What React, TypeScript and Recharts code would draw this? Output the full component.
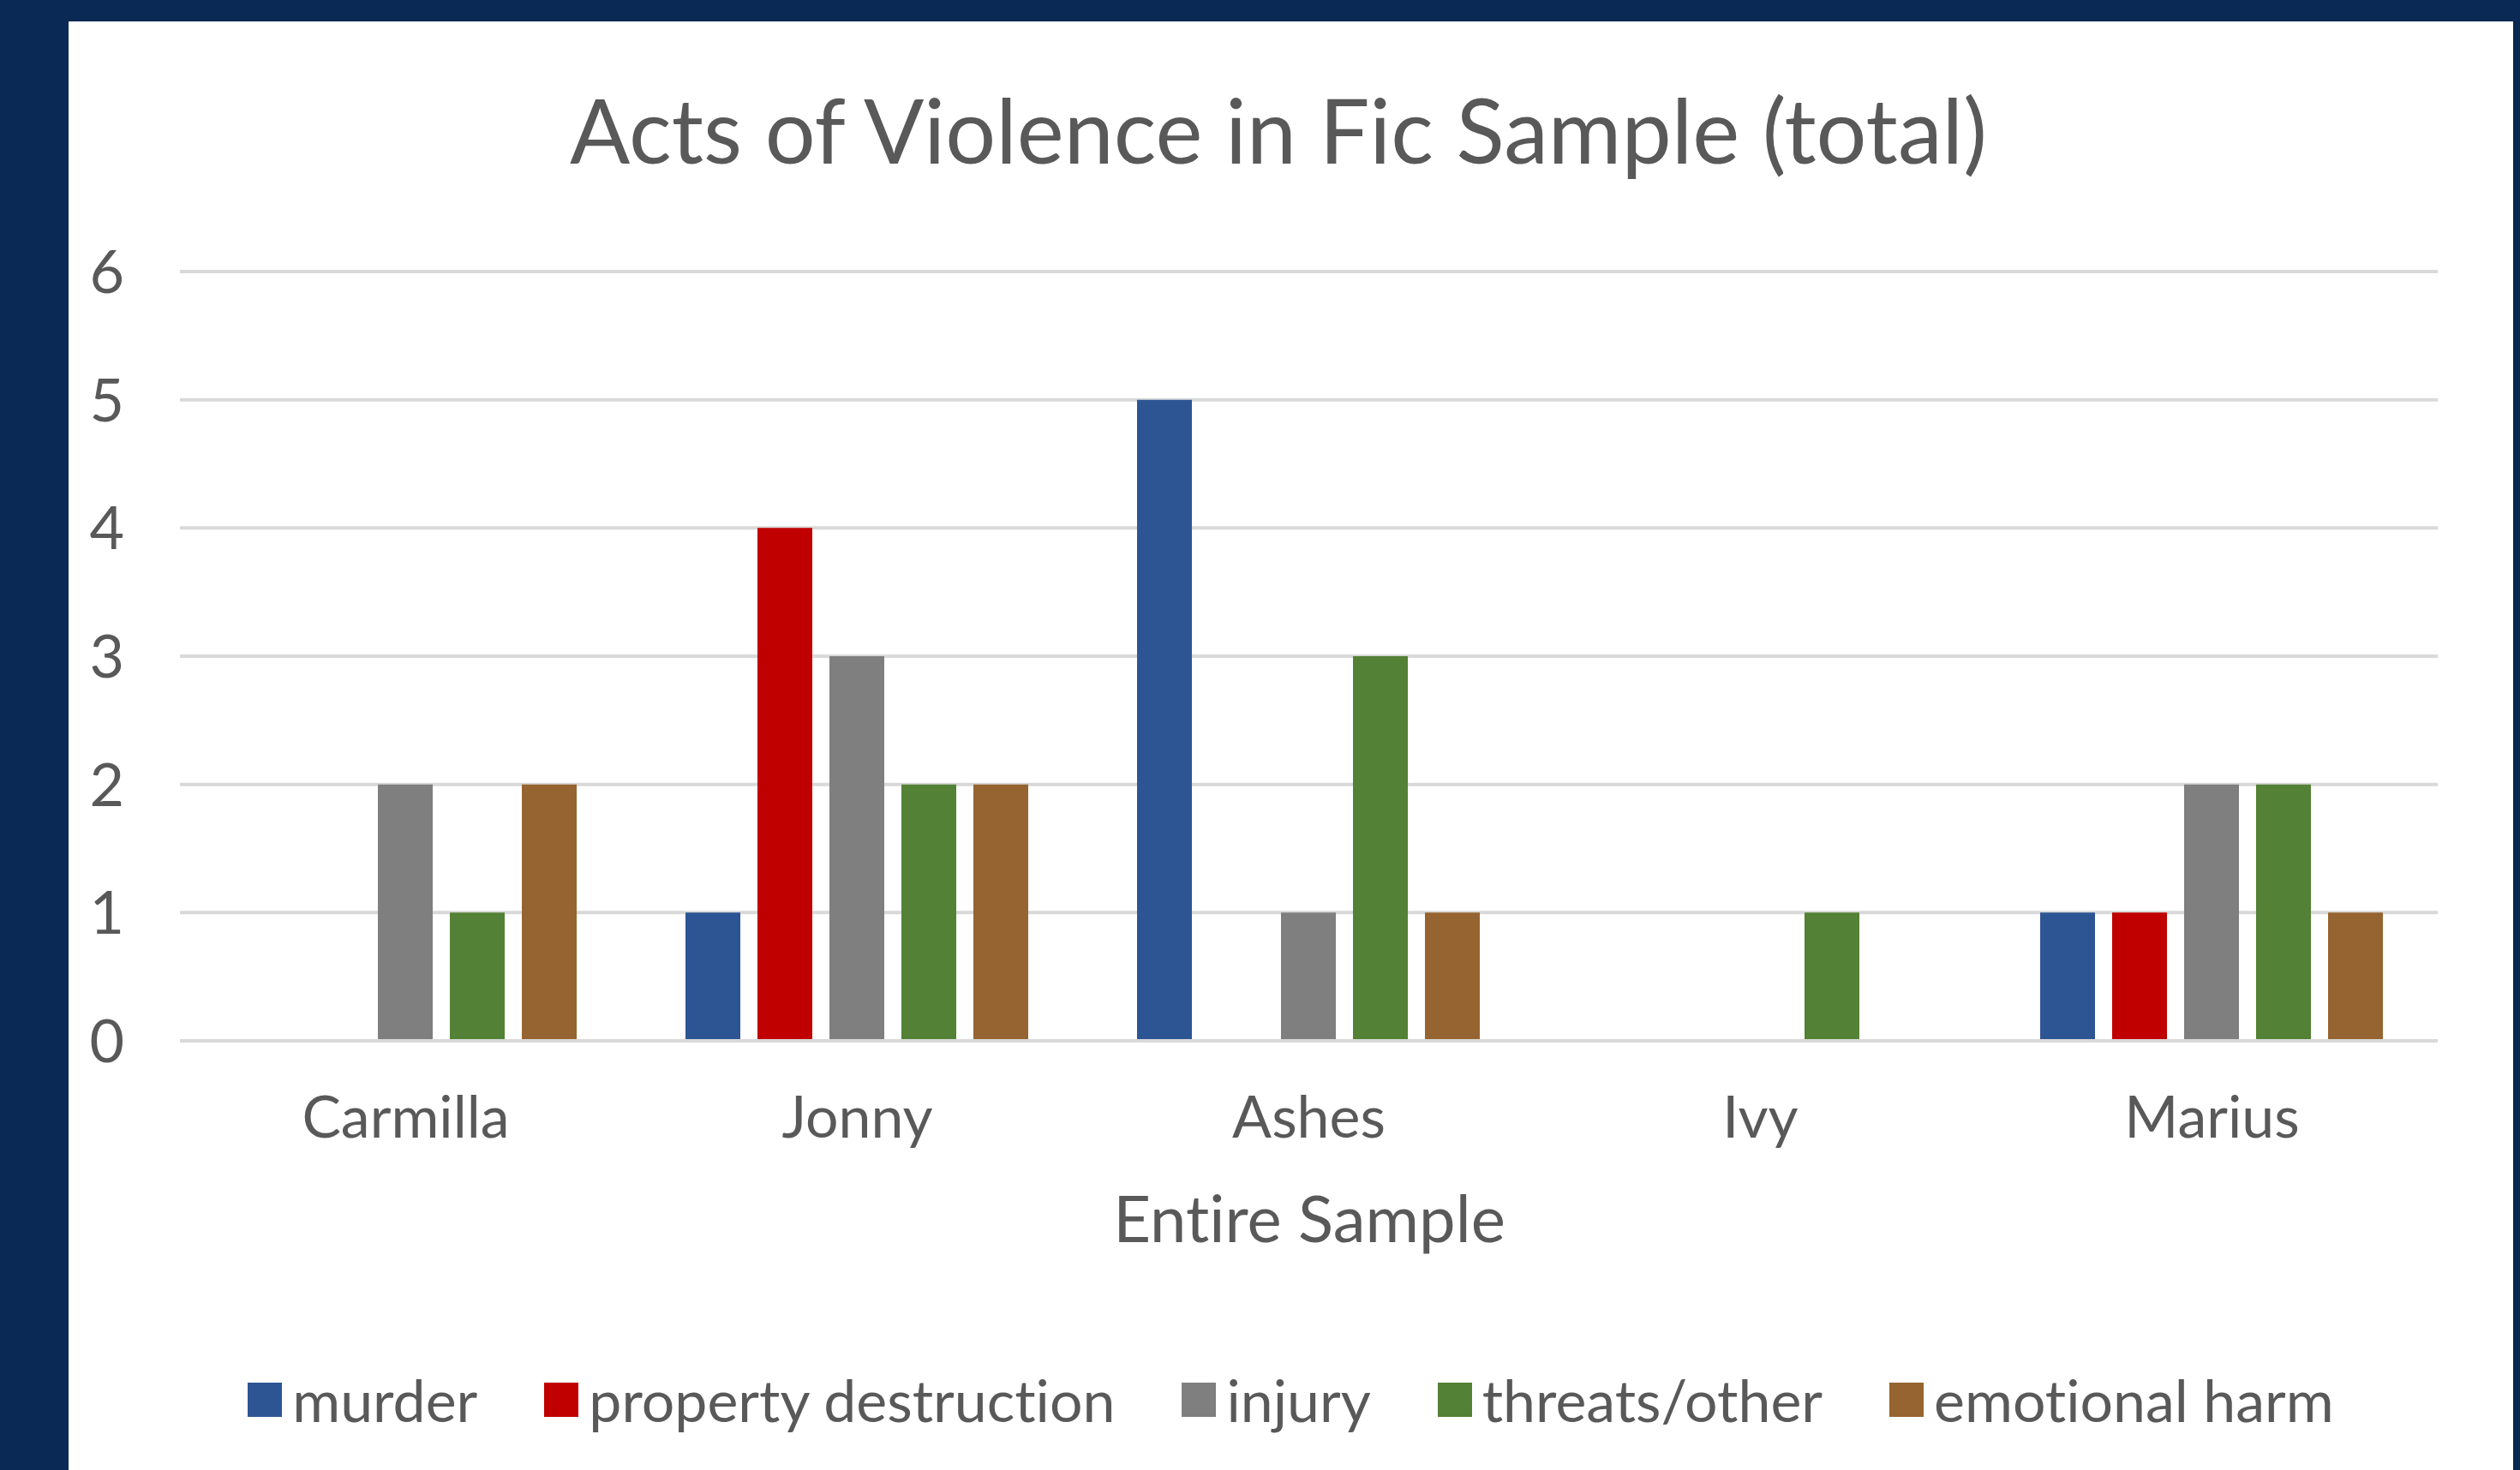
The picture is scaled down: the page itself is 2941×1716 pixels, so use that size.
import React from "react";
import { BarChart, Bar, XAxis, YAxis, CartesianGrid, Legend } from "recharts";

const categories = ["Carmilla", "Jonny", "Ashes", "Ivy", "Marius"];
const murder = [0, 1, 5, 0, 1];
const propertyDestruction = [0, 4, 0, 0, 1];
const injury = [2, 3, 1, 0, 2];
const threatsOther = [1, 2, 3, 1, 2];
const emotionalHarm = [2, 2, 1, 0, 1];
const yTicks = [0, 1, 2, 3, 4, 5, 6];

const seriesList = [
  { key: "murder", name: "murder", values: murder, color: "#2E5593" },
  { key: "property", name: "property destruction", values: propertyDestruction, color: "#C00000" },
  { key: "injury", name: "injury", values: injury, color: "#7F7F7F" },
  { key: "threats", name: "threats/other", values: threatsOther, color: "#538135" },
  { key: "emotional", name: "emotional harm", values: emotionalHarm, color: "#956430" }
];

const data = categories.map((c, i) => {
  const row: Record<string, string | number> = { name: c };
  seriesList.forEach((s) => {
    row[s.key] = s.values[i];
  });
  return row;
});

const W = 2853;
const H = 1691;
const FONT = "Lato, 'Open Sans', sans-serif";
const TEXT = "#595959";
const noLig = { fontVariantLigatures: "none" } as React.CSSProperties;

const XTick = (props: any) => {
  const { x, y, payload } = props;
  return (
    <text x={x} y={y + 113} textAnchor="middle" fill={TEXT} fontSize={68} fontFamily={FONT} style={noLig}>
      {payload.value}
    </text>
  );
};

const LegendBox = () => (
  <div
    style={{
      display: "flex",
      justifyContent: "center",
      alignItems: "center",
      gap: 78,
      height: 60,
      fontFamily: FONT,
      fontSize: 68,
      color: TEXT,
      lineHeight: "60px",
      fontVariantLigatures: "none"
    }}
  >
    {seriesList.map((s) => (
      <div key={s.key} style={{ display: "flex", alignItems: "center" }}>
        <span style={{ width: 40, height: 40, background: s.color, marginRight: 12, display: "inline-block" }} />
        <span>{s.name}</span>
      </div>
    ))}
  </div>
);

export default function App() {
  return (
    <div style={{ width: 2941, height: 1716, background: "#0A2A55", position: "relative", overflow: "hidden" }}>
      <style>{`body{margin:0}`}</style>
      <div
        style={{
          position: "absolute",
          left: 80,
          top: 25,
          width: W,
          height: H,
          background: "#ffffff",
          boxShadow: "2px 0 3px rgba(0,0,0,0.15)"
        }}
      >
        <BarChart
          width={W}
          height={H}
          data={data}
          margin={{ top: 292, right: 88, left: 30, bottom: 52 }}
          barCategoryGap={63}
          barGap={20}
        >
          <CartesianGrid vertical={false} stroke="#D9D9D9" strokeWidth={4} />
          <XAxis
            dataKey="name"
            height={389}
            axisLine={{ stroke: "#D9D9D9", strokeWidth: 4 }}
            tickLine={false}
            tickSize={0}
            tickMargin={0}
            tick={<XTick />}
            interval={0}
          />
          <YAxis
            width={100}
            domain={[0, 6]}
            ticks={yTicks}
            axisLine={false}
            tickLine={false}
            tickSize={0}
            tickMargin={65}
            tick={{ fill: TEXT, fontSize: 70, fontFamily: FONT }}
          />
          <Legend verticalAlign="bottom" content={<LegendBox />} wrapperStyle={{ left: 0, width: W, height: 60 }} />
          {seriesList.map((s) => (
            <Bar key={s.key} dataKey={s.key} name={s.name} fill={s.color} isAnimationActive={false} />
          ))}
          <text x={1412} y={166} textAnchor="middle" fill={TEXT} fontSize={104} fontFamily={FONT} style={noLig}>
            Acts of Violence in Fic Sample (total)
          </text>
          <text x={1448} y={1425} textAnchor="middle" fill={TEXT} fontSize={76} fontFamily={FONT} style={noLig}>
            Entire Sample
          </text>
        </BarChart>
      </div>
    </div>
  );
}
